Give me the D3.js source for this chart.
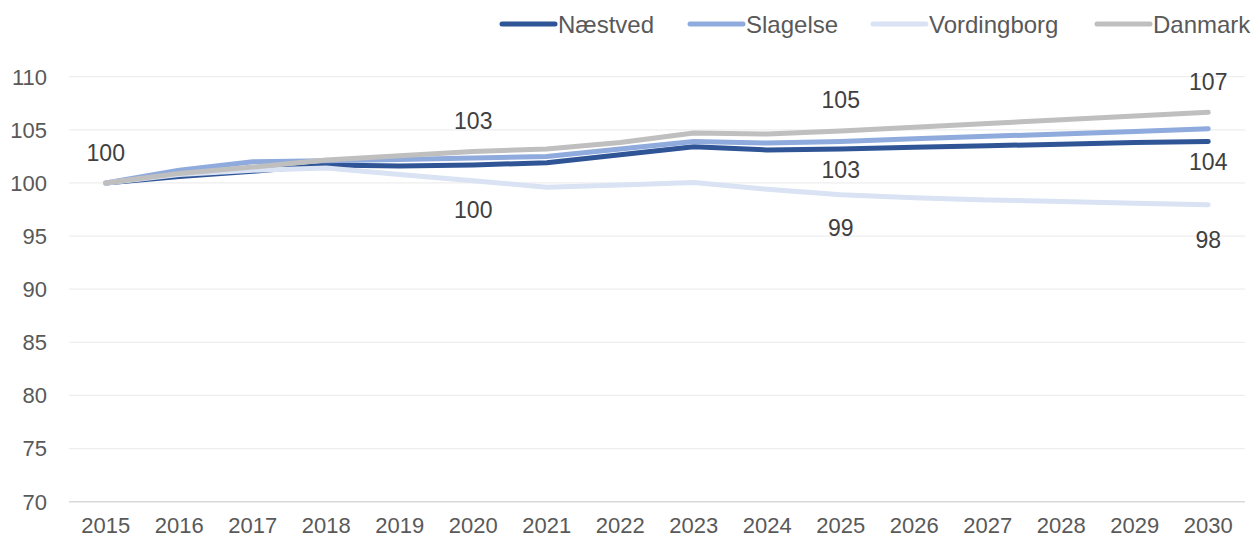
<!DOCTYPE html>
<html>
<head>
<meta charset="utf-8">
<script src="https://cdn.jsdelivr.net/npm/d3@7"></script>
<style>
  body { margin: 0; background: #fff; }
  svg text { font-family: "Liberation Sans", Arial, sans-serif; }
</style>
</head>
<body>
<svg id="chart" width="1251" height="539"></svg>
<script>
// data
const years = [2015, 2016, 2017, 2018, 2019, 2020, 2021, 2022, 2023, 2024, 2025, 2026, 2027, 2028, 2029, 2030];
const naestved = [100, 100.6, 101.1, 101.7, 101.6, 101.7, 101.9, 102.65, 103.4, 103.1, 103.2, 103.35, 103.5, 103.65, 103.8, 103.9];
const slagelse = [100, 101.2, 102.0, 102.1, 102.2, 102.35, 102.5, 103.2, 103.9, 103.75, 103.9, 104.15, 104.4, 104.6, 104.85, 105.1];
const vordingborg = [100, 100.8, 101.2, 101.4, 100.8, 100.2, 99.6, 99.8, 100.05, 99.4, 98.9, 98.6, 98.4, 98.25, 98.1, 97.95];
const danmark = [100, 100.9, 101.5, 102.15, 102.55, 102.95, 103.2, 103.8, 104.7, 104.6, 104.9, 105.25, 105.6, 105.95, 106.3, 106.65];
const yTicks = [70, 75, 80, 85, 90, 95, 100, 105, 110];

const seriesNames = ['Næstved', 'Slagelse', 'Vordingborg', 'Danmark'];
const seriesValues = [naestved, slagelse, vordingborg, danmark];
const colors = ['#2F5597', '#8FAADC', '#DAE3F3', '#BFBFBF'];

// which points carry a data label (series index, year index)
const labelPoints = [
  [3, 0], [3, 5], [3, 10], [3, 15],
  [0, 10], [0, 15],
  [2, 5], [2, 10], [2, 15]
];
// vertical offset of each label from its point, same order as above
const labelOffsets = [-30, -31, -31, -31, 20.5, 20.5, 29, 33, 35];

const svg = d3.select('#chart');

const x = d3.scalePoint().domain(years).range([69, 1245]).padding(0.5);
const y = d3.scaleLinear().domain([70, 110]).range([501.7, 76.7]);

// gridlines
svg.append('g')
  .selectAll('line')
  .data(yTicks)
  .join('line')
    .attr('x1', 69).attr('x2', 1245)
    .attr('y1', d => y(d)).attr('y2', d => y(d))
    .attr('stroke', d => d === 70 ? '#D9D9D9' : '#EEEEEE')
    .attr('stroke-width', d => d === 70 ? 1.5 : 1.3);

// y tick labels
svg.append('g')
  .selectAll('text')
  .data(yTicks)
  .join('text')
    .attr('x', 47)
    .attr('y', d => y(d))
    .attr('dy', '0.36em')
    .attr('text-anchor', 'end')
    .attr('font-size', 22)
    .attr('fill', '#595959')
    .text(d => d);

// x tick labels
svg.append('g')
  .selectAll('text')
  .data(years)
  .join('text')
    .attr('x', d => x(d))
    .attr('y', 533)
    .attr('text-anchor', 'middle')
    .attr('font-size', 22)
    .attr('fill', '#595959')
    .text(d => d);

// lines
const line = d3.line()
  .x((d, i) => x(years[i]))
  .y(d => y(d));

svg.append('g')
  .selectAll('path')
  .data(seriesValues)
  .join('path')
    .attr('d', line)
    .attr('fill', 'none')
    .attr('stroke', (d, i) => colors[i])
    .attr('stroke-width', 5)
    .attr('stroke-linecap', 'round')
    .attr('stroke-linejoin', 'round');

// data labels
svg.append('g')
  .selectAll('text')
  .data(labelPoints)
  .join('text')
    .attr('x', d => x(years[d[1]]))
    .attr('y', (d, i) => y(seriesValues[d[0]][d[1]]) + labelOffsets[i])
    .attr('dy', '0.36em')
    .attr('text-anchor', 'middle')
    .attr('font-size', 23)
    .attr('fill', '#404040')
    .text(d => Math.round(seriesValues[d[0]][d[1]]));

// legend
const legendX = [500, 688, 871, 1095];
const legend = svg.append('g')
  .selectAll('g')
  .data(seriesNames)
  .join('g')
    .attr('transform', (d, i) => `translate(${legendX[i]},24)`);

legend.append('line')
  .attr('x1', 2).attr('x2', 55)
  .attr('stroke', (d, i) => colors[i])
  .attr('stroke-width', 5)
  .attr('stroke-linecap', 'round');

legend.append('text')
  .attr('x', 58)
  .attr('dy', '0.36em')
  .attr('font-size', 24)
  .attr('fill', '#595959')
  .text(d => d);
</script>
</body>
</html>
